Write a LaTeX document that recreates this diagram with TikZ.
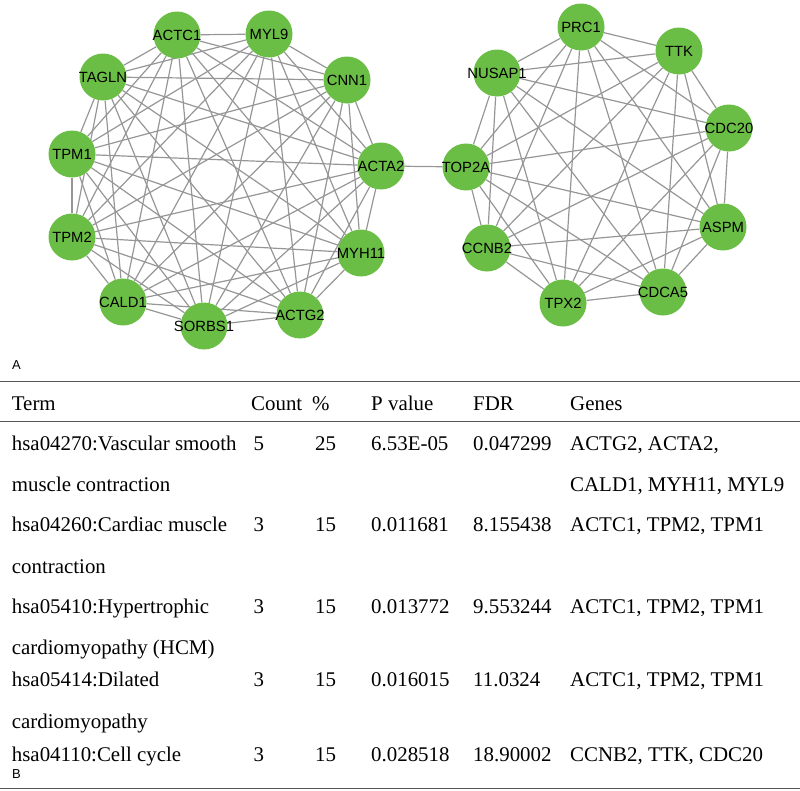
\documentclass[tikz,border=0pt]{standalone}
\usepackage{fontspec}
\setmainfont{Liberation Serif}
\newfontfamily\genefont{Liberation Sans}
\usetikzlibrary{backgrounds}

\definecolor{genegreen}{RGB}{106,190,70}
\definecolor{edgegray}{RGB}{150,150,150}
\definecolor{rulegray}{RGB}{85,85,85}

\tikzset{
  gene/.style={circle, fill=genegreen, minimum size=47pt, inner sep=0pt,
    font=\genefont\fontsize{14.8}{16}\selectfont},
  link/.style={draw=edgegray, line width=1.2pt},
  cell/.style={anchor=base west, inner sep=0pt, font=\fontsize{20.9}{24}\selectfont},
  panel/.style={anchor=base west, inner sep=0pt, font=\genefont\fontsize{13}{15}\selectfont},
  tabrule/.style={draw=rulegray, line width=1.4pt}
}

\def\leftgenes{ACTC1,MYL9,CNN1,ACTA2,MYH11,ACTG2,SORBS1,CALD1,TPM2,TPM1,TAGLN}
\def\rightgenes{PRC1,TTK,CDC20,ASPM,CDCA5,TPX2,CCNB2,TOP2A,NUSAP1}

\begin{document}
\begin{tikzpicture}[x=1pt,y=-1pt]
    \useasboundingbox (0,0) rectangle (800,790);
    % A: the two clusters
    \foreach \g/\x/\y in {ACTC1/177/35, MYL9/269/34, CNN1/347/80, ACTA2/381/166,
        MYH11/361/253, ACTG2/300/315, SORBS1/204/326, CALD1/123/302,
        TPM2/72/237, TPM1/72/154, TAGLN/103/77,
        PRC1/581/27, TTK/679/51, CDC20/729/128, ASPM/723/227, CDCA5/663/292,
        TPX2/563/303, CCNB2/487/248, TOP2A/466/167, NUSAP1/497/73}
        \node[gene] (\g) at (\x,\y) {\makebox[0pt]{\g}};
    \begin{scope}[on background layer]
        \foreach \a [count=\i] in \leftgenes
            \foreach \b [count=\j] in \leftgenes
                {\ifnum\j>\i\relax \draw[link] (\a) -- (\b);\fi}
        \foreach \a [count=\i] in \rightgenes
            \foreach \b [count=\j] in \rightgenes
                {\ifnum\j>\i\relax \draw[link] (\a) -- (\b);\fi}
        \draw[link] (ACTA2) -- (TOP2A);
    \end{scope}
    \node[panel] (labA) at (12,369) {A};

    % B: the table
    \draw[tabrule] (0,381.7) -- (800,381.7);
    \draw[tabrule] (0,421.7) -- (800,421.7);
    \draw[tabrule] (0,788.3) -- (800,788.3);
    \node[cell] (hTerm) at (11.7,410) {Term};
    \node[cell] (hCount) at (251,410) {Count};
    \node[cell] (hPct) at (312,410) {\%};
    \node[cell] (hP) at (371,410) {P value};
    \node[cell] (hFDR) at (473,410) {FDR};
    \node[cell] (hGenes) at (570,410) {Genes};
    \foreach \y/\t/\c/\p/\v/\f/\s [count=\r] in {
        450/{hsa04270:Vascular smooth}/5/25/6.53E-05/0.047299/{ACTG2, ACTA2,},
        531.7/{hsa04260:Cardiac muscle}/3/15/0.011681/8.155438/{ACTC1, TPM2, TPM1},
        613.3/{hsa05410:Hypertrophic}/3/15/0.013772/9.553244/{ACTC1, TPM2, TPM1},
        686.7/{hsa05414:Dilated}/3/15/0.016015/11.0324/{ACTC1, TPM2, TPM1},
        761.7/{hsa04110:Cell cycle}/3/15/0.028518/18.90002/{CCNB2, TTK, CDC20}}
    {
        \node[cell] (term\r) at (11.7,\y) {\t};
        \node[cell] (count\r) at (253.5,\y) {\c};
        \node[cell] (pct\r) at (315,\y) {\p};
        \node[cell] (pval\r) at (371,\y) {\v};
        \node[cell] (fdr\r) at (473,\y) {\f};
        \node[cell] (genes\r) at (570,\y) {\s};
    }
    % wrapped lines
    \foreach \y/\t [count=\r] in {491.7/muscle contraction, 573.3/contraction,
        654/{cardiomyopathy (HCM)}, 728.3/cardiomyopathy}
        \node[cell] (wrap\r) at (11.7,\y) {\t};
    \node[cell] (genesmore) at (570,491.7) {CALD1, MYH11, MYL9};
    \node[panel] (labB) at (12,778.5) {B};
\end{tikzpicture}
\end{document}
